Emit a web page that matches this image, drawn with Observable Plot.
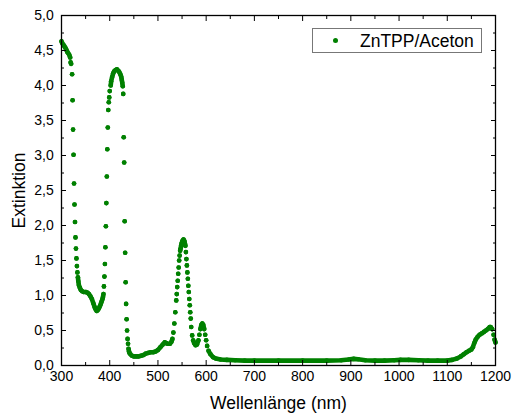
<!DOCTYPE html>
<html><head><meta charset="utf-8">
<script src="https://cdn.jsdelivr.net/npm/d3@7"></script>
<script src="https://cdn.jsdelivr.net/npm/@observablehq/plot@0.6"></script>
<style>
body{margin:0;background:#fff;}
#wrap{position:relative;width:513px;height:416px;font-family:"Liberation Sans",Arial,sans-serif;color:#000;}
#legend{position:absolute;left:312px;top:28px;width:170px;height:25px;border:1px solid #777;box-sizing:border-box;background:#fff;}
#legend .sw{position:absolute;left:20px;top:9px;width:5px;height:5px;border-radius:50%;background:#008000;}
#legend .lb{position:absolute;left:47px;top:1px;font-size:17.5px;line-height:22px;white-space:nowrap;}
</style></head><body><div id="wrap"></div>
<script>
const wavelength = [
 300,302,304,306,308,310,312,314,316,318,319,320,322,323,324,325,326,327,328,329,
 330,331,332,333,334,335,336,338,340,343,346,350,354,357,360,363,366,369,371,373,
 375,377,379,381,383,385,386,387,388,389,390,391,392,393,394,395,396,397,398,399,
 400,402,403,405,407,409,412,415,418,420,422,424,425,426,427,428,429,430,431,432,
 433,434,435,436,437,438,439,440,441,443,446,450,455,460,465,470,475,480,485,490,
 495,500,505,510,514,517,520,525,528,530,532,534,536,538,539,540,541,542,543,544,
 545,546,547,548,549,550,551,552,553,554,555,556,557,558,559,560,561,562,563,564,
 565,566,567,568,569,571,573,575,578,581,584,586,588,590,592,594,596,598,600,602,
 605,609,614,620,630,643,660,680,700,750,800,850,880,895,906,915,930,950,970,990,
 1003,1020,1040,1060,1080,1100,1110,1120,1128,1134,1140,1145,1150,1153,1156,1159,1163,1167,1172,1176,
 1180,1184,1188,1190,1193,1196,1198,1200
];
const extinction = [
 4.63,4.60,4.58,4.56,4.54,4.51,4.48,4.46,4.44,4.40,4.33,4.31,4.16,3.79,3.37,3.01,2.60,2.30,2.05,1.83,
 1.67,1.53,1.42,1.33,1.26,1.20,1.15,1.11,1.08,1.06,1.05,1.05,1.04,1.02,0.99,0.95,0.89,0.83,0.80,0.78,
 0.79,0.81,0.84,0.87,0.91,0.95,0.98,1.02,1.13,1.27,1.45,1.69,1.99,2.32,2.70,3.09,3.40,3.65,3.76,3.83,
 3.92,4.00,4.06,4.12,4.17,4.20,4.22,4.23,4.21,4.19,4.16,4.12,4.08,4.04,3.99,3.88,3.26,2.90,2.06,1.61,
 1.19,0.88,0.66,0.50,0.38,0.31,0.24,0.20,0.18,0.16,0.14,0.13,0.13,0.13,0.14,0.15,0.17,0.18,0.19,0.19,
 0.20,0.22,0.26,0.30,0.33,0.32,0.31,0.31,0.34,0.38,0.47,0.60,0.76,0.93,1.02,1.12,1.21,1.31,1.40,1.50,
 1.57,1.64,1.67,1.71,1.74,1.76,1.78,1.79,1.80,1.79,1.77,1.74,1.71,1.62,1.52,1.43,1.33,1.24,1.14,1.05,
 0.95,0.86,0.76,0.67,0.55,0.43,0.36,0.32,0.29,0.30,0.36,0.44,0.52,0.58,0.60,0.58,0.52,0.44,0.36,0.28,
 0.21,0.16,0.12,0.10,0.085,0.08,0.075,0.07,0.07,0.07,0.07,0.07,0.075,0.085,0.095,0.09,0.075,0.07,0.07,0.075,
 0.08,0.08,0.075,0.07,0.07,0.07,0.08,0.10,0.13,0.16,0.19,0.21,0.23,0.26,0.32,0.37,0.41,0.44,0.46,0.48,
 0.50,0.52,0.55,0.55,0.52,0.44,0.37,0.33
];
const xMajorTicks = [300,400,500,600,700,800,900,1000,1100,1200];
const xMinorTicks = [350,450,550,650,750,850,950,1050,1150];
const yMajorTicks = [0,0.5,1,1.5,2,2.5,3,3.5,4,4.5,5];
const yMinorTicks = [0.25,0.75,1.25,1.75,2.25,2.75,3.25,3.75,4.25,4.75];
const seriesName = "ZnTPP/Aceton";
const xTitle = "Wellenlänge (nm)";
const yTitle = "Extinktion";

const green = "#008000";
const H = 416, mT = 15, mB = 51;
const pxPerUnit = (H - mT - mB) / 5;
let seg = 0;
const rows = wavelength.map((w, i) => {
  if (i > 0 && Math.abs(extinction[i] - extinction[i-1]) * pxPerUnit > 4.5) seg++;
  return {wl: w, ext: extinction[i], seg};
});
const fmtY = d => d.toFixed(1).replace(".", ",");
const blank = () => "";
const font = {fontSize: 14};

const chart = Plot.plot({
  width: 513, height: H,
  marginLeft: 61, marginRight: 18, marginTop: mT, marginBottom: mB,
  style: {fontFamily: '"Liberation Sans", Arial, sans-serif', color: "#000", background: "#fff", overflow: "visible"},
  x: {domain: [300, 1200], label: null},
  y: {domain: [0, 5], label: null},
  marks: [
    Plot.line(rows, {x: "wl", y: "ext", z: "seg", stroke: green, strokeWidth: 4.6, strokeLinecap: "round", strokeLinejoin: "round"}),
    Plot.dot(rows, {x: "wl", y: "ext", r: 2.3, fill: green, strokeWidth: 0}),
    Plot.frame({stroke: "#000", strokeWidth: 1.3}),
    Plot.axisX(xMajorTicks, {anchor: "bottom", tickSize: -5, tickPadding: 11, tickFormat: d => String(d), label: null, ...font}),
    Plot.axisX(xMinorTicks, {anchor: "bottom", tickSize: -3, tickFormat: blank, label: null}),
    Plot.axisX(xMajorTicks, {anchor: "top", tickSize: -5, tickFormat: blank, label: null}),
    Plot.axisX(xMinorTicks, {anchor: "top", tickSize: -3, tickFormat: blank, label: null}),
    Plot.axisY(yMajorTicks, {anchor: "left", tickSize: -5, tickPadding: 12.7, tickFormat: fmtY, label: null, ...font}),
    Plot.axisY(yMinorTicks, {anchor: "left", tickSize: -3, tickFormat: blank, label: null}),
    Plot.axisY(yMajorTicks, {anchor: "right", tickSize: -5, tickFormat: blank, label: null}),
    Plot.axisY(yMinorTicks, {anchor: "right", tickSize: -3, tickFormat: blank, label: null}),
    Plot.text([xTitle], {text: d => d, frameAnchor: "bottom", dy: 38, lineAnchor: "middle", fontSize: 17.5}),
    Plot.text([yTitle], {text: d => d, frameAnchor: "left", dx: -42, rotate: -90, lineAnchor: "middle", textAnchor: "middle", fontSize: 17.5})
  ]
});
const wrap = document.getElementById("wrap");
wrap.appendChild(chart);
const lg = document.createElement("div");
lg.id = "legend";
lg.innerHTML = '<div class="sw"></div><div class="lb"></div>';
lg.querySelector(".lb").textContent = seriesName;
wrap.appendChild(lg);
</script>
</body></html>
